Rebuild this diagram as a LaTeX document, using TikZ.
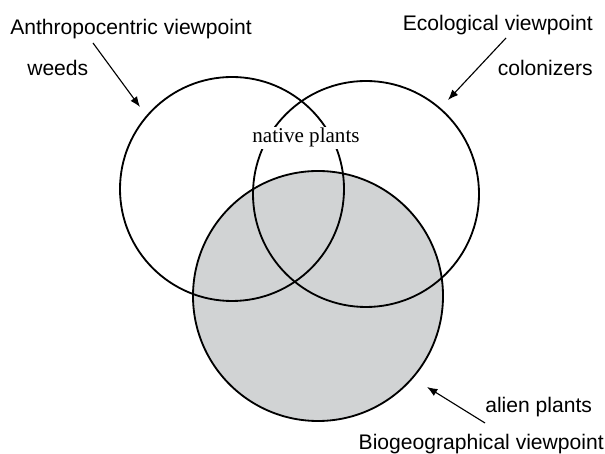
\documentclass[tikz,border=0pt]{standalone}
\usepackage{fontspec}
\setmainfont{Liberation Serif}
\setsansfont{Liberation Sans}
\usepackage{xcolor}
\usetikzlibrary{arrows.meta}

\definecolor{aliengray}{RGB}{209,211,212}

\begin{document}
\begin{tikzpicture}[
    viewtext/.style={font=\sffamily\fontsize{15}{18}\selectfont,inner sep=0pt},
    ring/.style={line width=1.3pt},
    pointer/.style={-{Latex[length=2.6mm,width=2mm]},line width=0.8pt}]
    \useasboundingbox (0,0) rectangle (15.125,11.35);

    % Biogeographical circle (gray)
    \fill[aliengray] (7.95,3.95) circle (3.125cm);

    % Anthropocentric and ecological circles
    \draw[ring] (5.8,6.625) circle (2.8cm);
    \draw[ring] (9.15,6.5) circle (2.825cm);
    \draw[ring] (7.95,3.95) circle (3.125cm);

    % Labels
    \node[viewtext,anchor=base west] (anthro) at (0.25,10.475) {Anthropocentric viewpoint};
    \node[viewtext,anchor=base west] (weeds) at (0.675,9.45) {weeds};
    \node[viewtext,anchor=base east] (eco) at (14.825,10.575) {Ecological viewpoint};
    \node[viewtext,anchor=base east] (colon) at (14.825,9.45) {colonizers};
    \node[viewtext,anchor=base west] (alien) at (12.125,1.025) {alien plants};
    \node[viewtext,anchor=base east] (bio) at (15.1,0.1) {Biogeographical viewpoint};
    \node[font=\fontsize{15}{18}\selectfont,fill=white,inner sep=1pt,anchor=base] (native) at (7.65,7.775) {native plants};

    % Arrows
    \coordinate (anthrotail) at (2.325,10.275);
    \coordinate (anthrotip) at (3.5,8.675);
    \coordinate (ecotail) at (12.65,10.4);
    \coordinate (ecotip) at (11.2,8.85);
    \coordinate (biotail) at (12.125,0.775);
    \coordinate (biotip) at (10.675,1.675);
    \draw[pointer] (anthrotail) -- (anthrotip);
    \draw[pointer] (ecotail) -- (ecotip);
    \draw[pointer] (biotail) -- (biotip);
\end{tikzpicture}
\end{document}
